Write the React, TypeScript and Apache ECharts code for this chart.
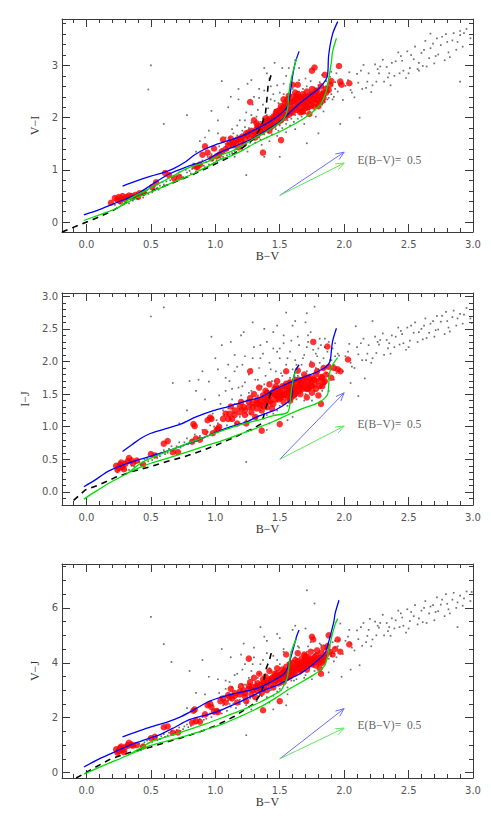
import React, { useEffect, useRef } from "react";
import * as echarts from "echarts";

// ---------------- data: panel 1 (V−I vs B−V) ----------------
const viField = [
  [0.22,0.33],[0.26,0.36],[0.30,0.38],[0.34,0.44],[0.37,0.47],[0.40,0.45],[0.43,0.52],[0.46,0.58],[0.48,0.54],[0.52,0.62],
  [0.55,0.66],[0.57,0.70],[0.60,0.72],[0.62,0.78],[0.65,0.80],[0.67,0.76],[0.70,0.88],[0.73,0.90],[0.75,0.86],[0.78,0.95],
  [0.80,0.98],[0.82,1.02],[0.85,0.97],[0.87,1.04],[0.89,1.12],[0.91,1.08],[0.93,1.15],[0.95,1.10],[0.96,1.20],[0.98,1.18],
  [1.00,1.24],[0.99,1.13],
  [0.50,3.00],[0.48,2.54],[0.60,1.88],[0.78,2.05],[0.95,1.75],[0.97,2.13],[1.02,1.95],[1.05,2.70],[1.10,2.20],[1.24,0.90],
  [1.25,2.65],[1.30,2.40],[1.38,2.95],[1.42,2.75],[1.45,2.45],[1.48,2.62],[1.55,2.80],[1.60,2.55],[1.65,2.95],[1.70,2.75],
  [1.71,1.51],[1.80,1.70],[1.97,1.88],[2.12,2.00],[1.38,1.25],[1.50,1.25],[2.90,2.69],[1.34,2.55],[1.18,2.35],[0.88,1.55],
  [1.02,1.30],[1.04,1.22],[1.05,1.40],[1.07,1.33],[1.08,1.50],[1.09,1.28],[1.10,1.38],[1.11,1.62],[1.12,1.45],[1.13,1.32],
  [1.14,1.70],[1.15,1.55],[1.16,1.40],[1.17,1.85],[1.18,1.50],[1.19,1.62],[1.20,1.42],[1.21,1.75],[1.22,1.55],[1.23,1.95],
  [1.24,1.48],[1.25,1.62],[1.26,1.80],[1.27,1.52],[1.28,2.05],[1.29,1.68],[1.30,1.58],[1.31,1.82],[1.32,1.70],[1.33,2.15],
  [1.34,1.62],[1.35,1.92],[1.36,1.75],[1.37,2.25],[1.38,1.68],[1.39,1.85],[1.40,2.05],[1.41,1.72],[1.42,1.95],[1.43,2.35],
  [1.44,1.80],[1.45,1.90],[1.46,2.15],[1.47,1.78],[1.48,2.00],[1.49,2.28],[1.50,1.85],[1.51,2.10],[1.52,1.92],[1.53,2.45],
  [1.54,2.02],[1.55,2.20],[1.56,1.95],[1.57,2.38],[1.58,2.08],[1.59,1.98],[1.60,2.25],[1.61,2.45],[1.62,2.05],[1.63,2.20],
  [1.64,2.12],[1.65,2.50],[1.66,2.30],[1.67,2.18],[1.68,2.38],[1.69,2.08],[1.70,2.25],[1.71,2.60],[1.72,2.35],[1.73,2.18],
  [1.74,2.48],[1.75,2.28],[1.76,2.40],[1.77,2.15],[1.78,2.55],[1.79,2.38],[1.80,2.30],[1.81,2.68],[1.82,2.45],[1.83,2.25],
  [1.84,2.58],[1.85,2.40],[1.86,2.70],[1.87,2.35],[1.88,2.50],[1.89,2.78],[1.90,2.45],[1.91,2.62],[1.92,2.40],[1.93,2.55],
  [1.94,2.85],[1.95,2.50],
];
const viTail = [
  [1.96,2.63],[1.99,2.34],[2.01,2.61],[2.04,2.87],[2.05,2.53],[2.08,2.39],[2.10,2.84],[2.11,2.67],[2.14,2.55],[2.15,3.01],
  [2.18,2.69],[2.19,2.85],[2.21,2.49],[2.24,3.02],[2.25,2.69],[2.27,2.85],[2.30,3.11],[2.31,2.69],[2.33,2.97],[2.36,2.62],
  [2.37,3.05],[2.39,2.80],[2.42,3.25],[2.43,2.85],[2.45,3.09],[2.48,2.76],[2.49,3.27],[2.51,2.95],[2.54,3.12],[2.55,3.36],
  [2.57,2.93],[2.60,3.24],[2.61,2.99],[2.63,3.47],[2.66,3.14],[2.67,3.33],[2.70,3.04],[2.72,3.52],[2.73,3.21],[2.75,3.39],
  [2.78,3.10],[2.79,3.60],[2.81,3.25],[2.84,3.48],[2.85,3.62],[2.87,3.30],[2.90,3.58],[2.92,3.36],[2.95,3.70],
  [2.03,2.72],[2.13,2.90],[2.22,2.62],[2.28,2.98],[2.34,2.77],[2.40,3.08],[2.46,2.90],[2.52,3.20],[2.58,3.05],[2.64,2.98],
  [2.69,3.42],[2.76,3.55],[2.82,3.16],[2.88,3.45],[2.93,3.62],[2.06,2.48],[2.17,2.57],[2.26,2.93],[2.44,3.18],[2.62,3.30],
  [2.71,3.18],[2.80,3.45],[2.98,3.52],[2.35,2.85],[2.50,2.85],[2.67,3.61],[2.58,2.90],[2.90,3.66],
];
const viExtra = [
  [0.33,0.36],[0.36,0.41],[0.41,0.50],[0.44,0.47],[0.47,0.61],[0.51,0.57],[0.53,0.69],[0.56,0.62],[0.59,0.77],[0.63,0.71],
  [0.66,0.86],[0.69,0.81],[0.72,0.95],[0.74,0.83],[0.77,1.00],[0.81,0.93],[0.83,1.12],[0.86,1.01],[0.90,1.18],[0.92,1.05],
  [0.94,1.25],[0.97,1.30],[1.01,1.18],[1.03,1.45],[1.06,1.25],[1.08,1.62],[1.11,1.30],[1.13,1.78],[1.15,1.36],[1.17,1.66],
  [1.19,1.95],[1.21,1.38],[1.23,1.82],[1.24,2.10],[1.26,1.45],[1.28,1.90],[1.29,2.25],[1.31,1.52],[1.32,2.02],[1.34,2.38],
  [1.35,1.58],[1.37,1.98],[1.38,2.52],[1.40,1.62],[1.41,2.18],[1.43,2.60],[1.44,1.68],[1.46,2.32],[1.47,2.02],[1.49,1.75],
  [1.50,2.48],[1.52,1.80],[1.53,2.65],[1.55,1.88],[1.56,2.35],[1.58,1.85],[1.59,2.62],[1.61,1.92],[1.62,2.32],[1.64,1.98],
  [1.65,2.72],[1.67,2.02],[1.68,2.55],[1.70,2.08],[1.71,2.42],[1.73,2.15],[1.74,2.70],[1.76,2.20],[1.77,2.58],[1.79,2.22],
  [1.80,2.62],[1.82,2.28],[1.83,2.82],[1.85,2.30],[1.86,2.60],[1.88,2.38],[1.90,2.88],[1.91,2.35],[1.93,2.68],[1.36,1.48],
  [1.42,1.55],[1.48,1.65],[1.25,1.35],[1.15,1.25],[1.55,1.72],[1.62,1.78],[1.69,1.88],[1.78,2.02],[1.84,2.12],[1.18,2.55],
  [1.28,2.72],[1.12,2.40],[1.52,2.95],[1.46,3.05],[1.62,3.10],[1.02,1.70],[0.92,1.62],[0.85,1.35],[1.40,2.85],[1.57,2.95],
];
const viRed = [
  [0.19,0.37],[0.22,0.46],[0.24,0.43],[0.25,0.48],[0.26,0.40],[0.27,0.45],[0.28,0.50],[0.30,0.44],[0.31,0.48],[0.33,0.51],
  [0.35,0.50],[0.38,0.52],[0.40,0.48],[0.41,0.55],[0.44,0.56],
  [0.51,0.67],[0.54,0.76],[0.61,0.94],[0.64,0.90],[0.68,0.84],[0.72,0.86],[0.84,1.07],[0.86,1.05],[0.88,1.10],[0.90,1.29],
  [0.92,1.45],[0.94,1.33],[0.97,1.22],[0.99,1.41],[1.01,1.26],[1.03,1.29],[1.05,1.35],[1.06,1.58],[1.08,1.40],[1.10,1.46],
  [1.12,1.60],[1.13,1.52],[1.14,1.47],[1.16,1.51],[1.17,1.58],[1.18,1.43],[1.20,1.55],[1.21,1.64],[1.22,1.50],[1.24,1.70],
  [1.25,1.67],[1.27,2.30],[1.27,1.60],[1.28,1.75],[1.30,1.73],[1.30,1.95],[1.31,1.62],[1.32,1.89],[1.33,1.68],[1.34,1.78],
  [1.35,1.83],[1.36,1.72],[1.37,1.33],[1.38,1.90],[1.39,1.99],[1.40,1.80],[1.41,1.86],[1.42,1.75],[1.43,1.89],[1.44,1.95],
  [1.45,2.02],[1.46,1.88],[1.47,2.10],[1.48,1.98],[1.49,2.05],[1.50,2.15],[1.51,1.57],[1.51,1.95],[1.52,2.08],[1.53,2.20],
  [1.54,2.00],[1.55,2.12],[1.56,2.25],[1.57,2.05],[1.58,2.18],[1.59,2.30],[1.60,2.10],[1.60,2.63],[1.61,2.22],[1.62,2.35],
  [1.63,2.15],[1.64,2.63],[1.64,2.28],[1.65,2.40],[1.66,2.20],[1.67,2.33],[1.68,2.45],[1.68,2.12],[1.69,2.25],[1.70,2.38],
  [1.71,2.50],[1.72,2.20],[1.72,2.30],[1.73,2.07],[1.73,2.42],[1.74,2.24],[1.75,2.90],[1.75,2.55],[1.76,2.35],[1.77,2.45],
  [1.77,2.96],[1.78,2.28],[1.79,2.34],[1.79,2.52],[1.80,2.22],[1.81,2.40],[1.82,2.60],[1.83,2.32],[1.84,2.48],[1.85,2.82],
  [1.86,2.55],[1.88,2.53],[1.89,2.63],[1.90,2.70],[1.96,2.99],[1.97,2.69],[1.98,2.63],[2.04,2.66],[1.53,2.35],[1.57,2.42],
  [1.62,2.48],[1.66,2.10],[1.70,2.18],[1.45,1.85],[1.41,1.95],
  [1.46,2.00],[1.48,2.12],[1.50,2.05],[1.52,2.18],[1.54,2.28],[1.55,2.05],[1.57,2.15],[1.58,2.30],[1.59,2.10],[1.61,2.32],
  [1.62,2.18],[1.63,2.40],[1.65,2.25],[1.66,2.38],[1.67,2.12],[1.68,2.28],[1.69,2.40],[1.70,2.30],[1.71,2.20],[1.72,2.40],
  [1.74,2.32],[1.75,2.45],[1.76,2.22],[1.77,2.36],[1.78,2.50],[1.80,2.42],[1.81,2.30],[1.83,2.45],[1.84,2.38],[1.86,2.48],
  [1.60,2.40],[1.64,2.45],[1.56,2.35],[1.51,2.22],[1.47,2.05],[1.43,1.82],[1.40,1.92],[1.38,1.78],[1.35,1.75],[1.33,1.85],
  [1.29,1.68],[1.26,1.72],[1.23,1.60],[1.19,1.60],[1.15,1.55],[1.11,1.52],[1.32,1.78],[1.37,1.85],[1.42,1.98],[1.49,1.92],
];
const viBlueA = [[0.28,0.69],[0.40,0.80],[0.50,0.88],[0.60,0.95],[0.68,1.03],[0.76,1.14],[0.84,1.29],[0.92,1.40],[1.00,1.48],[1.10,1.56],[1.20,1.64],[1.30,1.76],[1.40,1.89],[1.48,2.02],[1.53,2.12],[1.56,2.22],[1.58,2.45],[1.60,2.80],[1.62,3.05],[1.65,3.27]];
const viBlueB = [[-0.02,0.14],[0.10,0.24],[0.19,0.33],[0.29,0.43],[0.39,0.53],[0.52,0.74],[0.65,0.93],[0.78,1.06],[0.91,1.17],[1.04,1.34],[1.15,1.45],[1.30,1.61],[1.40,1.76],[1.50,1.92],[1.63,2.22],[1.72,2.40],[1.79,2.53],[1.84,2.66],[1.87,2.80],[1.88,3.20],[1.91,3.60],[1.95,3.84]];
const viGreenA = [[-0.02,0.03],[0.10,0.14],[0.24,0.27],[0.32,0.42],[0.39,0.52],[0.48,0.63],[0.57,0.75],[0.67,0.88],[0.78,1.03],[0.94,1.16],[1.04,1.28],[1.12,1.35],[1.20,1.45],[1.30,1.60],[1.40,1.74],[1.48,1.87],[1.53,1.97],[1.56,2.15],[1.57,2.45],[1.59,2.75],[1.61,2.95],[1.63,3.13]];
const viGreenB = [[0.24,0.27],[0.32,0.38],[0.39,0.47],[0.48,0.56],[0.57,0.65],[0.67,0.76],[0.78,0.87],[0.88,0.99],[0.96,1.09],[1.04,1.20],[1.12,1.27],[1.20,1.36],[1.30,1.50],[1.40,1.62],[1.50,1.73],[1.60,1.86],[1.69,1.99],[1.76,2.12],[1.82,2.27],[1.86,2.50],[1.88,2.75],[1.90,3.05],[1.91,3.26],[1.94,3.52]];
const viDash = [[-0.19,-0.19],[-0.05,-0.05],[0.05,0.05],[0.19,0.20],[0.32,0.39],[0.50,0.59],[0.70,0.78],[0.88,0.97],[1.09,1.22],[1.20,1.40],[1.30,1.60],[1.36,1.85],[1.39,2.10],[1.40,2.34],[1.41,2.63],[1.44,2.88]];
const viRedden = [[1.5,0.51,2.0,1.34],[1.5,0.51,2.0,1.13]];
const viLabelAt = [[2.1,1.18]];

// ---------------- data: panel 2 (I−J vs B−V) ----------------
const ijField = [
  [0.24,0.30],[0.28,0.36],[0.31,0.33],[0.35,0.40],[0.38,0.44],[0.42,0.42],[0.45,0.50],[0.48,0.47],[0.52,0.55],[0.55,0.52],
  [0.58,0.60],[0.61,0.58],[0.64,0.66],[0.67,0.63],[0.70,0.70],[0.73,0.68],[0.76,0.76],[0.79,0.73],[0.82,0.80],[0.85,0.78],
  [0.88,0.86],[0.91,0.83],[0.94,0.92],[0.97,0.89],[0.99,1.00],
  [0.50,2.69],[0.60,2.83],[0.67,1.67],[0.72,1.05],[0.80,1.70],[0.87,1.72],[0.90,1.85],[0.95,1.69],[0.97,2.38],[1.00,2.05],
  [1.05,2.25],[1.10,1.95],[1.15,2.10],[1.20,2.40],[1.24,0.46],[1.29,2.60],[1.35,2.25],[1.45,2.45],[1.50,2.20],[1.55,2.75],
  [1.60,2.55],[1.71,2.74],[1.77,2.84],[1.72,2.40],[1.80,2.20],[1.85,2.35],[2.09,2.54],[2.22,2.62],[2.05,1.67],[2.11,1.47],
  [2.16,1.74],[2.99,2.59],[1.40,0.95],[1.60,1.15],
  [1.02,1.05],[1.04,1.35],[1.05,0.95],[1.07,1.18],[1.08,1.55],[1.09,1.02],[1.10,1.28],[1.11,1.70],[1.12,1.12],[1.13,1.42],
  [1.14,1.22],[1.15,1.85],[1.16,1.05],[1.17,1.35],[1.18,1.60],[1.19,1.15],[1.20,1.48],[1.21,1.95],[1.22,1.25],[1.23,1.68],
  [1.24,1.10],[1.25,1.40],[1.26,1.80],[1.27,1.20],[1.28,1.55],[1.29,2.05],[1.30,1.32],[1.31,1.72],[1.32,1.12],[1.33,1.48],
  [1.34,1.90],[1.35,1.25],[1.36,1.62],[1.37,2.12],[1.38,1.38],[1.39,1.78],[1.40,1.18],[1.41,1.55],[1.42,1.98],[1.43,1.32],
  [1.44,1.70],[1.45,2.20],[1.46,1.45],[1.47,1.85],[1.48,1.25],[1.49,1.62],[1.50,2.05],[1.51,1.40],[1.52,1.78],[1.53,2.28],
  [1.54,1.52],[1.55,1.95],[1.56,1.32],[1.57,1.70],[1.58,2.15],[1.59,1.48],[1.60,1.88],[1.61,1.60],[1.62,2.02],[1.63,1.42],
  [1.64,1.78],[1.65,2.25],[1.66,1.55],[1.67,1.95],[1.68,1.68],[1.69,2.10],[1.70,1.50],[1.71,1.85],[1.72,2.30],[1.73,1.62],
  [1.74,2.00],[1.75,1.75],[1.76,2.18],[1.77,1.55],[1.78,1.90],[1.79,2.08],[1.80,1.70],[1.81,1.98],[1.82,2.25],[1.83,1.80],
  [1.84,2.05],[1.85,1.65],[1.86,1.92],[1.87,2.15],[1.88,1.78],[1.89,2.02],[1.90,1.88],[1.91,2.20],[1.92,1.95],[1.93,2.08],
  [1.94,1.82],[1.95,2.12],
];
const ijTail = [
  [1.96,2.09],[1.99,1.85],[2.01,2.08],[2.04,2.27],[2.05,1.98],[2.08,1.90],[2.10,2.22],[2.11,2.11],[2.14,2.02],[2.15,2.35],
  [2.18,2.12],[2.19,2.25],[2.21,1.98],[2.24,2.38],[2.25,2.13],[2.27,2.26],[2.30,2.43],[2.31,2.10],[2.33,2.33],[2.36,2.12],
  [2.37,2.40],[2.39,2.22],[2.42,2.52],[2.43,2.26],[2.45,2.42],[2.48,2.18],[2.49,2.52],[2.51,2.32],[2.54,2.44],[2.55,2.60],
  [2.57,2.30],[2.60,2.50],[2.61,2.34],[2.63,2.66],[2.66,2.44],[2.67,2.58],[2.70,2.38],[2.72,2.70],[2.73,2.49],[2.75,2.61],
  [2.78,2.42],[2.79,2.76],[2.81,2.52],[2.84,2.68],[2.85,2.78],[2.87,2.55],[2.90,2.73],[2.92,2.58],[2.95,2.82],
  [2.03,2.15],[2.13,2.28],[2.22,2.05],[2.28,2.33],[2.34,2.20],[2.40,2.38],[2.46,2.28],[2.52,2.55],[2.58,2.45],[2.64,2.36],
  [2.69,2.62],[2.76,2.70],[2.82,2.46],[2.88,2.66],[2.93,2.72],[2.06,1.92],[2.17,2.02],[2.26,2.30],[2.44,2.47],[2.62,2.55],
  [2.71,2.48],[2.80,2.62],[2.98,2.66],[2.35,2.28],[2.50,2.22],
];
const ijExtra = [
  [0.33,0.34],[0.37,0.39],[0.41,0.46],[0.44,0.41],[0.47,0.52],[0.51,0.49],[0.54,0.58],[0.57,0.55],[0.60,0.64],[0.63,0.60],
  [0.66,0.70],[0.69,0.66],[0.72,0.76],[0.75,0.71],[0.78,0.82],[0.81,0.76],[0.84,0.88],[0.87,0.82],[0.90,0.95],[0.93,0.88],
  [0.96,1.02],[0.98,1.20],[1.01,1.10],[1.03,1.48],[1.06,1.25],[1.08,1.75],[1.11,1.15],[1.13,1.58],[1.15,1.35],[1.17,1.92],
  [1.19,1.28],[1.21,1.62],[1.23,2.08],[1.25,1.18],[1.26,1.52],[1.28,1.88],[1.30,2.22],[1.31,1.42],[1.33,1.72],[1.35,2.05],
  [1.36,1.30],[1.38,1.65],[1.40,2.30],[1.41,1.50],[1.43,1.88],[1.45,1.20],[1.46,1.70],[1.48,2.15],[1.50,1.32],[1.51,1.82],
  [1.53,2.40],[1.54,1.60],[1.56,2.05],[1.58,1.75],[1.59,2.32],[1.61,1.52],[1.63,1.95],[1.64,2.38],[1.66,1.68],[1.68,2.05],
  [1.69,1.40],[1.71,2.22],[1.73,1.80],[1.74,2.45],[1.76,1.62],[1.78,2.12],[1.80,1.88],[1.81,2.35],[1.83,1.55],[1.85,2.22],
  [1.86,1.82],[1.88,2.30],[1.90,2.02],[1.92,1.72],[1.93,2.28],[1.12,2.30],[1.02,1.88],[0.92,1.42],[0.85,1.55],[0.78,1.25],
  [1.22,2.45],[1.48,2.55],[1.62,2.62],[1.38,2.50],[1.70,2.60],[1.56,1.10],[1.42,1.05],[1.28,0.95],[1.75,1.40],[1.88,1.55],
];
const ijRed = [
  [0.23,0.40],[0.24,0.34],[0.25,0.37],[0.26,0.42],[0.27,0.45],[0.28,0.38],[0.29,0.35],[0.30,0.43],[0.32,0.47],[0.33,0.52],
  [0.35,0.48],[0.36,0.44],[0.39,0.48],[0.44,0.42],
  [0.50,0.58],[0.53,0.56],[0.60,0.74],[0.63,0.78],[0.67,0.61],[0.71,0.61],[0.82,0.77],[0.83,1.04],[0.84,1.01],[0.85,0.82],
  [0.88,0.80],[0.92,0.92],[0.94,1.10],[0.96,1.14],[0.97,1.12],[0.98,0.90],[1.01,0.95],[1.02,0.97],[1.03,1.00],[1.06,1.12],
  [1.08,1.20],[1.10,1.12],[1.12,1.31],[1.13,1.12],[1.15,1.25],[1.17,1.05],[1.19,1.22],[1.20,1.38],[1.22,1.30],[1.23,1.18],
  [1.24,1.05],[1.27,1.85],[1.26,1.30],[1.27,1.44],[1.28,1.22],[1.29,1.36],[1.30,1.50],[1.31,1.15],[1.32,1.28],[1.33,1.42],
  [1.34,1.60],[1.35,1.33],[1.36,1.25],[1.36,0.94],[1.37,1.48],[1.38,1.38],[1.39,1.55],[1.40,1.30],[1.41,1.45],[1.42,1.65],
  [1.43,1.40],[1.44,1.52],[1.45,1.35],[1.46,1.58],[1.47,1.48],[1.48,1.70],[1.49,1.42],[1.50,1.55],[1.50,1.04],[1.51,1.45],
  [1.52,1.62],[1.53,1.38],[1.54,1.50],[1.55,1.66],[1.55,1.85],[1.56,1.45],[1.57,1.58],[1.58,1.40],[1.59,1.52],[1.60,1.65],
  [1.61,1.48],[1.62,1.72],[1.63,1.55],[1.64,1.86],[1.65,1.62],[1.66,1.50],[1.67,1.70],[1.68,1.58],[1.69,1.80],[1.70,1.65],
  [1.71,1.45],[1.72,1.75],[1.73,1.60],[1.74,1.68],[1.75,1.52],[1.75,1.95],[1.76,2.30],[1.77,1.72],[1.78,1.58],[1.79,1.85],
  [1.80,1.48],[1.82,1.35],[1.82,1.76],[1.83,1.62],[1.84,1.90],[1.85,1.70],[1.87,2.23],[1.88,1.92],[1.90,1.75],[1.92,1.90],
  [1.95,1.88],[1.97,1.85],[2.03,2.03],[1.47,1.62],[1.52,1.48],[1.58,1.60],[1.65,1.72],[1.72,1.58],[1.40,1.52],[1.44,1.28],
  [1.46,1.50],[1.48,1.58],[1.50,1.45],[1.52,1.55],[1.54,1.62],[1.55,1.48],[1.57,1.52],[1.58,1.68],[1.59,1.45],[1.61,1.58],
  [1.62,1.50],[1.63,1.66],[1.65,1.55],[1.66,1.68],[1.67,1.60],[1.68,1.72],[1.69,1.62],[1.70,1.75],[1.71,1.58],[1.72,1.68],
  [1.74,1.75],[1.75,1.62],[1.76,1.72],[1.77,1.65],[1.78,1.80],[1.80,1.70],[1.81,1.62],[1.83,1.75],[1.84,1.68],[1.86,1.80],
  [1.60,1.58],[1.64,1.62],[1.56,1.55],[1.51,1.50],[1.47,1.42],[1.43,1.48],[1.40,1.40],[1.38,1.45],[1.35,1.40],[1.33,1.35],
  [1.29,1.30],[1.26,1.38],[1.23,1.25],[1.19,1.30],[1.15,1.18],[1.11,1.20],[1.32,1.38],[1.37,1.32],[1.42,1.38],[1.49,1.50],
];
const ijBlueA = [[0.28,0.62],[0.35,0.72],[0.42,0.82],[0.50,0.90],[0.60,0.96],[0.73,1.04],[0.85,1.15],[0.99,1.25],[1.10,1.31],[1.25,1.40],[1.35,1.45],[1.45,1.56],[1.57,1.67],[1.70,1.77],[1.80,1.85],[1.86,1.92],[1.89,2.00],[1.90,2.15],[1.91,2.31],[1.94,2.51]];
const ijBlueB = [[-0.02,0.08],[0.08,0.20],[0.17,0.32],[0.29,0.42],[0.40,0.49],[0.50,0.55],[0.63,0.63],[0.76,0.72],[0.88,0.81],[0.99,0.90],[1.12,1.00],[1.25,1.08],[1.31,1.14],[1.40,1.21],[1.47,1.26],[1.56,1.37],[1.59,1.44],[1.60,1.65],[1.62,1.85],[1.65,1.95]];
const ijGreenA = [[-0.02,-0.11],[0.08,0.02],[0.17,0.13],[0.32,0.29],[0.42,0.44],[0.50,0.52],[0.65,0.64],[0.79,0.75],[0.93,0.85],[1.07,0.95],[1.21,1.04],[1.35,1.11],[1.45,1.17],[1.56,1.22],[1.58,1.36],[1.59,1.55],[1.61,1.77],[1.63,1.87]];
const ijGreenB = [[0.32,0.29],[0.42,0.38],[0.50,0.44],[0.65,0.53],[0.79,0.62],[0.93,0.71],[1.07,0.80],[1.21,0.90],[1.35,1.00],[1.45,1.08],[1.56,1.18],[1.68,1.28],[1.80,1.37],[1.87,1.49],[1.88,1.65],[1.89,1.85],[1.92,1.98],[1.95,2.06]];
const ijDash = [[-0.10,-0.13],[-0.01,0.03],[0.10,0.11],[0.22,0.22],[0.35,0.31],[0.50,0.39],[0.63,0.47],[0.76,0.54],[0.89,0.63],[1.01,0.72],[1.15,0.84],[1.30,0.98],[1.36,1.05],[1.38,1.20],[1.41,1.40],[1.44,1.57]];
const ijRedden = [[1.5,0.50,2.0,1.52],[1.5,0.50,2.0,1.01]];
const ijLabelAt = [[2.1,1.04]];

// ---------------- data: panel 3 (V−J vs B−V) ----------------
const vjField = [
  [0.24,0.72],[0.28,0.80],[0.31,0.78],[0.35,0.92],[0.38,0.98],[0.42,0.95],[0.45,1.10],[0.48,1.06],[0.52,1.22],[0.55,1.18],
  [0.58,1.32],[0.61,1.30],[0.64,1.45],[0.67,1.40],[0.70,1.55],[0.73,1.52],[0.76,1.68],[0.79,1.65],[0.82,1.82],[0.85,1.78],
  [0.88,1.95],[0.91,1.92],[0.94,2.08],[0.97,2.02],[0.99,2.20],
  [0.50,5.67],[0.60,4.68],[0.66,4.03],[0.95,3.49],[0.80,3.70],[0.90,4.10],[1.05,4.50],[1.20,4.30],[1.30,4.55],[1.40,4.80],
  [1.35,5.30],[1.50,4.90],[1.60,5.20],[1.71,6.64],[1.77,6.16],[1.98,3.49],[2.12,3.91],[2.05,3.75],[1.24,1.36],[1.55,2.45],
  [1.45,2.30],[2.88,5.30],[2.99,6.58],[1.97,5.43],[2.20,5.60],
  [1.02,2.30],[1.04,2.75],[1.05,2.15],[1.07,2.50],[1.08,3.05],[1.09,2.25],[1.10,2.62],[1.11,3.30],[1.12,2.40],[1.13,2.85],
  [1.14,2.52],[1.15,3.55],[1.16,2.35],[1.17,2.78],[1.18,3.10],[1.19,2.50],[1.20,2.95],[1.21,3.75],[1.22,2.65],[1.23,3.20],
  [1.24,2.45],[1.25,2.90],[1.26,3.45],[1.27,2.70],[1.28,3.10],[1.29,3.95],[1.30,2.80],[1.31,3.30],[1.32,2.60],[1.33,3.05],
  [1.34,3.60],[1.35,2.85],[1.36,3.25],[1.37,4.10],[1.38,2.95],[1.39,3.45],[1.40,2.75],[1.41,3.20],[1.42,3.80],[1.43,3.00],
  [1.44,3.40],[1.45,4.25],[1.46,3.15],[1.47,3.60],[1.48,2.95],[1.49,3.35],[1.50,3.95],[1.51,3.20],[1.52,3.55],[1.53,4.40],
  [1.54,3.30],[1.55,3.75],[1.56,3.10],[1.57,3.50],[1.58,4.05],[1.59,3.35],[1.60,3.80],[1.61,3.55],[1.62,4.20],[1.63,3.40],
  [1.64,3.85],[1.65,4.55],[1.66,3.60],[1.67,4.00],[1.68,3.75],[1.69,4.30],[1.70,3.55],[1.71,3.95],[1.72,4.60],[1.73,3.80],
  [1.74,4.15],[1.75,3.90],[1.76,4.45],[1.77,3.70],[1.78,4.10],[1.79,4.35],[1.80,3.95],[1.81,4.25],[1.82,4.65],[1.83,4.05],
  [1.84,4.40],[1.85,4.00],[1.86,4.30],[1.87,4.70],[1.88,4.15],[1.89,4.45],[1.90,4.25],[1.91,4.75],[1.92,4.35],[1.93,4.55],
  [1.94,4.20],[1.95,4.60],
];
const vjTail = [
  [1.96,4.82],[1.99,4.32],[2.01,4.80],[2.04,5.20],[2.05,4.70],[2.08,4.45],[2.10,5.18],[2.11,4.86],[2.14,4.62],[2.15,5.45],
  [2.18,4.98],[2.19,5.20],[2.21,4.60],[2.24,5.50],[2.25,5.00],[2.27,5.28],[2.30,5.75],[2.31,5.00],[2.33,5.45],[2.36,4.98],
  [2.37,5.62],[2.39,5.25],[2.42,5.90],[2.43,5.30],[2.45,5.65],[2.48,5.10],[2.49,5.95],[2.51,5.52],[2.54,5.70],[2.55,6.10],
  [2.57,5.40],[2.60,5.90],[2.61,5.48],[2.63,6.25],[2.66,5.80],[2.67,6.05],[2.70,5.55],[2.72,6.38],[2.73,5.88],[2.75,6.12],
  [2.78,5.70],[2.79,6.50],[2.81,5.95],[2.84,6.30],[2.85,6.55],[2.87,6.00],[2.90,6.45],[2.92,6.08],[2.95,6.60],
  [2.03,4.95],[2.13,5.30],[2.22,4.85],[2.28,5.45],[2.34,5.15],[2.40,5.55],[2.46,5.35],[2.52,5.85],[2.58,5.62],[2.64,5.45],
  [2.69,6.10],[2.76,6.30],[2.82,5.80],[2.88,6.20],[2.93,6.35],[2.06,4.55],[2.17,4.75],[2.26,5.35],[2.44,5.80],[2.62,6.00],
  [2.71,5.85],[2.80,6.15],[2.98,6.25],[2.35,5.30],[2.50,5.25],
];
const vjExtra = [
  [0.33,0.90],[0.37,0.96],[0.41,1.05],[0.44,1.00],[0.47,1.16],[0.51,1.12],[0.54,1.28],[0.57,1.22],[0.60,1.40],[0.63,1.35],
  [0.66,1.52],[0.69,1.45],[0.72,1.64],[0.75,1.58],[0.78,1.75],[0.81,1.70],[0.84,1.90],[0.87,1.84],[0.90,2.02],[0.93,1.96],
  [0.96,2.15],[0.98,2.45],[1.01,2.28],[1.03,2.90],[1.06,2.45],[1.08,3.35],[1.11,2.50],[1.13,3.10],[1.15,2.70],[1.17,3.60],
  [1.19,2.65],[1.21,3.20],[1.23,3.95],[1.25,2.55],[1.26,3.05],[1.28,3.70],[1.30,4.20],[1.31,2.95],[1.33,3.45],[1.35,3.95],
  [1.36,2.78],[1.38,3.30],[1.40,4.35],[1.41,3.10],[1.43,3.70],[1.45,2.80],[1.46,3.40],[1.48,4.10],[1.50,3.05],[1.51,3.65],
  [1.53,4.50],[1.54,3.40],[1.56,4.00],[1.58,3.60],[1.59,4.40],[1.61,3.35],[1.63,3.95],[1.64,4.60],[1.66,3.70],[1.68,4.20],
  [1.69,3.45],[1.71,4.40],[1.73,3.90],[1.74,4.75],[1.76,3.85],[1.78,4.35],[1.80,4.05],[1.81,4.70],[1.83,3.80],[1.85,4.50],
  [1.86,4.10],[1.88,4.65],[1.90,4.35],[1.92,4.05],[1.93,4.80],[1.12,4.20],[1.02,3.40],[0.92,2.85],[0.85,2.90],[0.78,2.35],
  [1.22,4.70],[1.48,5.05],[1.62,5.35],[1.38,4.95],[1.70,5.25],[1.56,2.85],[1.42,2.55],[1.28,2.30],[1.75,3.40],[1.88,3.65],
];
const vjRed = [
  [0.23,0.85],[0.24,0.72],[0.25,0.78],[0.26,0.90],[0.27,0.95],[0.28,0.82],[0.29,0.74],[0.30,0.92],[0.32,1.00],[0.33,1.08],
  [0.35,1.02],[0.36,0.98],[0.39,1.00],[0.44,0.95],
  [0.50,1.25],[0.53,1.30],[0.60,1.65],[0.63,1.68],[0.67,1.45],[0.71,1.46],[0.82,1.82],[0.83,2.25],[0.84,2.30],[0.85,1.88],
  [0.88,1.85],[0.92,2.12],[0.94,2.45],[0.96,2.50],[0.97,2.38],[0.99,2.22],[1.01,2.24],[1.02,2.20],[1.04,2.60],[1.06,2.70],
  [1.08,2.55],[1.10,2.82],[1.12,3.05],[1.13,2.70],[1.15,2.90],[1.17,2.55],[1.19,2.85],[1.20,3.15],[1.22,3.00],[1.23,2.78],
  [1.24,2.60],[1.26,4.15],[1.26,3.05],[1.27,3.30],[1.28,2.85],[1.29,3.12],[1.30,3.45],[1.31,2.75],[1.32,3.00],[1.33,3.25],
  [1.34,3.60],[1.35,3.05],[1.36,2.90],[1.37,2.27],[1.37,3.40],[1.38,3.15],[1.39,3.50],[1.40,3.00],[1.41,3.30],[1.42,3.70],
  [1.43,3.20],[1.44,3.45],[1.45,3.10],[1.46,3.60],[1.47,3.35],[1.48,3.80],[1.49,3.25],[1.50,3.55],[1.50,2.60],[1.51,3.40],
  [1.52,3.75],[1.53,3.30],[1.54,3.55],[1.55,3.85],[1.55,4.30],[1.56,3.45],[1.57,3.70],[1.58,3.50],[1.59,3.80],[1.60,4.00],
  [1.61,3.65],[1.62,4.10],[1.63,3.85],[1.64,4.35],[1.65,3.95],[1.66,3.70],[1.67,4.15],[1.68,3.90],[1.69,4.30],[1.70,4.00],
  [1.71,3.75],[1.72,4.20],[1.73,3.95],[1.74,4.40],[1.75,4.05],[1.75,4.95],[1.76,4.85],[1.77,4.20],[1.78,3.90],[1.79,4.45],
  [1.80,4.10],[1.81,3.80],[1.82,3.60],[1.82,4.35],[1.83,4.00],[1.84,4.55],[1.85,4.20],[1.87,4.60],[1.88,5.00],[1.89,4.40],
  [1.91,4.30],[1.93,4.50],[1.95,4.85],[1.97,4.40],[2.04,4.67],[1.58,3.95],[1.64,4.05],[1.70,4.25],[1.46,3.30],[1.53,3.65],
  [1.46,3.50],[1.48,3.62],[1.50,3.45],[1.52,3.58],[1.54,3.70],[1.55,3.50],[1.57,3.62],[1.58,3.78],[1.59,3.55],[1.61,3.80],
  [1.62,3.65],[1.63,3.95],[1.65,3.78],[1.66,3.92],[1.67,3.75],[1.68,4.05],[1.69,3.85],[1.70,4.10],[1.71,3.90],[1.72,4.05],
  [1.74,4.15],[1.75,3.95],[1.76,4.10],[1.77,4.00],[1.78,4.25],[1.80,4.15],[1.81,4.00],[1.83,4.20],[1.84,4.10],[1.86,4.30],
  [1.60,3.70],[1.64,3.85],[1.56,3.60],[1.51,3.55],[1.47,3.45],[1.43,3.35],[1.40,3.25],[1.38,3.30],[1.35,3.20],[1.33,3.10],
  [1.29,3.00],[1.26,3.15],[1.23,2.90],[1.19,2.95],[1.15,2.80],[1.11,2.75],[1.32,3.15],[1.37,3.05],[1.42,3.40],[1.49,3.50],
];
const vjBlueA = [[0.28,1.30],[0.40,1.50],[0.50,1.66],[0.62,1.83],[0.73,2.03],[0.84,2.30],[0.94,2.57],[1.04,2.74],[1.14,2.87],[1.25,2.98],[1.35,3.11],[1.45,3.35],[1.53,3.58],[1.56,3.80],[1.58,4.10],[1.61,4.60],[1.63,4.95],[1.65,5.19]];
const vjBlueB = [[-0.02,0.20],[0.08,0.45],[0.19,0.69],[0.28,0.88],[0.37,1.06],[0.47,1.22],[0.58,1.40],[0.69,1.66],[0.79,1.91],[0.90,2.06],[1.01,2.21],[1.14,2.47],[1.27,2.76],[1.38,3.00],[1.48,3.18],[1.57,3.40],[1.66,3.61],[1.76,3.95],[1.85,4.34],[1.87,4.60],[1.89,4.94],[1.92,5.50],[1.93,5.80],[1.96,6.28]];
const vjGreenA = [[-0.02,-0.06],[0.08,0.15],[0.17,0.33],[0.32,0.63],[0.42,0.90],[0.50,1.12],[0.65,1.34],[0.79,1.55],[0.93,1.78],[1.07,2.03],[1.21,2.28],[1.35,2.57],[1.45,2.82],[1.51,3.00],[1.54,3.25],[1.56,3.49],[1.58,4.20],[1.60,4.55],[1.63,4.88]];
const vjGreenB = [[0.32,0.63],[0.42,0.82],[0.50,0.99],[0.65,1.18],[0.79,1.36],[0.93,1.57],[1.07,1.79],[1.21,2.08],[1.35,2.39],[1.47,2.72],[1.58,3.06],[1.67,3.30],[1.76,3.55],[1.82,3.75],[1.85,3.91],[1.87,4.20],[1.88,4.46],[1.91,5.07],[1.93,5.40],[1.95,5.61]];
const vjDash = [[-0.08,-0.20],[-0.01,-0.02],[0.08,0.22],[0.19,0.50],[0.33,0.72],[0.50,0.93],[0.63,1.12],[0.76,1.30],[0.89,1.50],[1.01,1.72],[1.15,2.05],[1.30,2.51],[1.35,2.85],[1.37,3.12],[1.39,3.73],[1.42,4.10],[1.44,4.46]];
const vjRedden = [[1.5,0.50,2.0,2.33],[1.5,0.50,2.0,1.62]];
const vjLabelAt = [[2.1,1.72]];

// axis tick values
const xRange = [-0.19, 3.0];
const xMajor = 0.5;
const xMinor = 0.1;
const yRanges = [[-0.19, 3.89], [-0.2, 3.05], [-0.2, 7.6]];
const yMajors = [1, 0.5, 2];
const yMinors = [0.2, 0.1, 0.5];
const yDigits = [0, 1, 0];
const yNames = ["V−I", "I−J", "V−J"];
const xName = "B−V";
const reddeningText = "E(B−V)=  0.5";

// ---------------- styles / layout ----------------
const AXIS_COLOR = "#3a3a3a";
const LABEL_COLOR = "#555";
const BLUE = "#0000ff";
const GREEN = "#00dd00";
const ARROW_COLORS = ["#6b6bff", "#5fe85f"];
const GRID_LEFT = 62;
const GRID_WIDTH = 411;
const GRID_TOPS = [19, 293, 564];
const GRID_HEIGHTS = [213, 212, 214];
const Y_NAME_GAPS = [17, 25, 16];

function fmt(step: number, digits: number) {
  return (v: number) => {
    const k = v / step;
    if (Math.abs(k - Math.round(k)) > 1e-6) return "";
    const val = Math.abs(v) < 1e-9 ? 0 : v;
    return val.toFixed(digits);
  };
}

function buildAxes(gi: number, dim: "x" | "y") {
  const isX = dim === "x";
  const [min, max] = isX ? xRange : yRanges[gi];
  const major = isX ? xMajor : yMajors[gi];
  const minor = isX ? xMinor : yMinors[gi];
  const positions = isX ? ["bottom", "top"] : ["left", "right"];
  const axes: any[] = [];
  positions.forEach((pos, pi) => {
    const main = pi === 0;
    axes.push({
      gridIndex: gi,
      type: "value",
      position: pos,
      min,
      max,
      minInterval: major,
      maxInterval: major,
      splitNumber: Math.round((max - min) / major),
      axisLine: { show: true, onZero: false, lineStyle: { color: AXIS_COLOR, width: 1 } },
      axisTick: { show: true, inside: true, length: 8, lineStyle: { color: AXIS_COLOR, width: 1 } },
      axisLabel: main
        ? {
            show: true,
            margin: isX ? 7 : 4,
            color: LABEL_COLOR,
            fontFamily: "DejaVu Sans",
            fontSize: 10,
            formatter: fmt(major, isX ? 1 : yDigits[gi]),
          }
        : { show: false },
      splitLine: { show: false },
      name: main ? (isX ? xName : yNames[gi]) : "",
      nameLocation: "middle",
      nameGap: isX ? 17 : Y_NAME_GAPS[gi],
      nameTextStyle: { fontFamily: "Liberation Serif", fontSize: 12, color: "#333" },
      silent: true,
    });
    axes.push({
      gridIndex: gi,
      type: "value",
      position: pos,
      min,
      max,
      minInterval: minor,
      maxInterval: minor,
      splitNumber: Math.round((max - min) / minor),
      axisLine: { show: false, onZero: false },
      axisTick: { show: true, inside: true, length: 4, lineStyle: { color: AXIS_COLOR, width: 1 } },
      axisLabel: { show: false },
      splitLine: { show: false },
      silent: true,
    });
  });
  return axes;
}

const panelData = [
  { field: [...viField, ...viTail, ...viExtra], red: viRed, blueA: viBlueA, blueB: viBlueB, greenA: viGreenA, greenB: viGreenB, dash: viDash, redden: viRedden, labelAt: viLabelAt },
  { field: [...ijField, ...ijTail, ...ijExtra], red: ijRed, blueA: ijBlueA, blueB: ijBlueB, greenA: ijGreenA, greenB: ijGreenB, dash: ijDash, redden: ijRedden, labelAt: ijLabelAt },
  { field: [...vjField, ...vjTail, ...vjExtra], red: vjRed, blueA: vjBlueA, blueB: vjBlueB, greenA: vjGreenA, greenB: vjGreenB, dash: vjDash, redden: vjRedden, labelAt: vjLabelAt },
];

function buildOption() {
  const grid: any[] = [];
  const xAxis: any[] = [];
  const yAxis: any[] = [];
  const series: any[] = [];
  panelData.forEach((p, gi) => {
    grid.push({ left: GRID_LEFT, top: GRID_TOPS[gi], width: GRID_WIDTH, height: GRID_HEIGHTS[gi], containLabel: false });
    xAxis.push(...buildAxes(gi, "x"));
    yAxis.push(...buildAxes(gi, "y"));
    const ax = { xAxisIndex: gi * 4, yAxisIndex: gi * 4 };
    series.push({
      type: "scatter", ...ax, data: p.field, symbol: "rect", symbolSize: 1.7,
      itemStyle: { color: "#4a4a4a" }, silent: true, z: 2,
    });
    series.push({
      type: "scatter", ...ax, data: p.red, symbol: "circle", symbolSize: 6.5,
      itemStyle: { color: "#ff0000" }, silent: true, z: 3,
    });
    series.push({
      type: "line", ...ax, data: p.dash, showSymbol: false, symbol: "none", smooth: false,
      lineStyle: { color: "#000", width: 1.6, type: [6, 5] }, silent: true, z: 4,
    });
    [p.blueA, p.blueB].forEach((d) =>
      series.push({
        type: "line", ...ax, data: d, showSymbol: false, symbol: "none", smooth: 0.3,
        lineStyle: { color: BLUE, width: 1.3 }, silent: true, z: 5,
      })
    );
    [p.greenA, p.greenB].forEach((d) =>
      series.push({
        type: "line", ...ax, data: d, showSymbol: false, symbol: "none", smooth: 0.3,
        lineStyle: { color: GREEN, width: 1.3 }, silent: true, z: 5,
      })
    );
    series.push({
      type: "custom", ...ax, coordinateSystem: "cartesian2d", data: p.redden, silent: true, z: 6,
      encode: { x: [0, 2], y: [1, 3] },
      renderItem: (params: any, api: any) => {
        const a = api.coord([api.value(0), api.value(1)]);
        const b = api.coord([api.value(2), api.value(3)]);
        const ang = Math.atan2(b[1] - a[1], b[0] - a[0]);
        const L = 9;
        const w = 0.38;
        const h1 = [b[0] - L * Math.cos(ang - w), b[1] - L * Math.sin(ang - w)];
        const h2 = [b[0] - L * Math.cos(ang + w), b[1] - L * Math.sin(ang + w)];
        const color = ARROW_COLORS[params.dataIndex];
        return {
          type: "group",
          children: [
            { type: "line", shape: { x1: a[0], y1: a[1], x2: b[0], y2: b[1] }, style: { stroke: color, lineWidth: 1 } },
            { type: "polyline", shape: { points: [h1, b, h2] }, style: { stroke: color, lineWidth: 1, fill: null } },
          ],
        };
      },
    });
    series.push({
      type: "scatter", ...ax, data: p.labelAt, symbol: "circle", symbolSize: 1,
      itemStyle: { color: "rgba(0,0,0,0)" }, silent: true, z: 6,
      label: {
        show: true, position: "right", distance: 0, formatter: reddeningText,
        color: "#333", fontFamily: "Liberation Serif", fontSize: 11.5,
      },
    });
  });
  return { backgroundColor: "#ffffff", animation: false, grid, xAxis, yAxis, series };
}

export default function App() {
  const ref = useRef<HTMLDivElement>(null);
  useEffect(() => {
    if (!ref.current) return;
    const chart = echarts.init(ref.current, undefined, { renderer: "svg" });
    chart.setOption(buildOption() as any);
    return () => chart.dispose();
  }, []);
  return (
    <div
      ref={ref}
      style={{ position: "absolute", left: 0, top: 0, width: 491, height: 817, background: "#fff" }}
    />
  );
}
